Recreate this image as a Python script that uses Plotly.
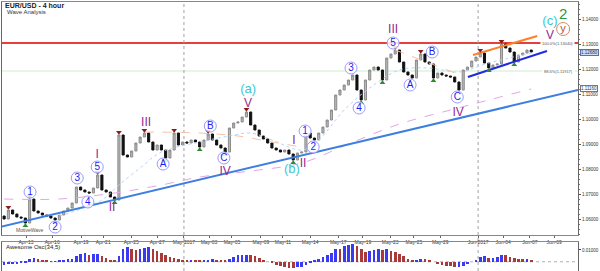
import plotly.graph_objects as go

# ---------------- data ----------------
title_text = "EUR/USD - 4 hour"
subtitle_text = "Wave Analysis"
ao_title = "Awesome Osc(34,5)"

first_open = 1.0612
closes = [
    1.0600, 1.0636, 1.0620, 1.0608, 1.0604, 1.0584, 1.0680, 1.0632, 1.0624, 1.0616,
    1.0612, 1.0604, 1.0596, 1.0616, 1.0632, 1.0644, 1.0664, 1.0728, 1.0716, 1.0708,
    1.0704, 1.0724, 1.0776, 1.0716, 1.0708, 1.0688, 1.0676, 1.0936, 1.0856, 1.0848,
    1.0872, 1.0904, 1.0928, 1.0944, 1.0908, 1.0876, 1.0896, 1.0876, 1.0844, 1.0876,
    1.0944, 1.0896, 1.0908, 1.0904, 1.0916, 1.0908, 1.0888, 1.0916, 1.0940, 1.0916,
    1.0896, 1.0884, 1.0868, 1.0964, 1.0984, 1.0988, 1.1008, 1.1028, 1.0976, 1.0956,
    1.0932, 1.0920, 1.0904, 1.0884, 1.0876, 1.0868, 1.0876, 1.0860, 1.0836, 1.0864,
    1.0868, 1.0944, 1.0924, 1.0916, 1.0944, 1.0968, 1.0996, 1.1036, 1.1096, 1.1116,
    1.1136, 1.1156, 1.1176, 1.1116, 1.1076, 1.1156, 1.1196, 1.1208, 1.1196, 1.1156,
    1.1244, 1.1260, 1.1276, 1.1228, 1.1188, 1.1176, 1.1164, 1.1236, 1.1260, 1.1228,
    1.1220, 1.1164, 1.1184, 1.1176, 1.1172, 1.1168, 1.1148, 1.1116, 1.1196, 1.1208,
    1.1232, 1.1248, 1.1264, 1.1224, 1.1204, 1.1216, 1.1220, 1.1300, 1.1284, 1.1268,
    1.1228, 1.1256, 1.1264, 1.1276, 1.1268,
]

ao_values = [
    -0.0025, -0.0023, -0.0021, -0.0017, -0.0012, -0.0004, 0.0021, 0.0033, 0.0025, 0.0017,
    0.0008, 0.0003, 0.0004, 0.0008, 0.0012, 0.0021, 0.0025, 0.0050, 0.0067, 0.0075,
    0.0058, 0.0062, 0.0067, 0.0050, 0.0033, 0.0017, 0.0008, 0.0050, 0.0108, 0.0125,
    0.0108, 0.0100, 0.0108, 0.0117, 0.0121, 0.0108, 0.0092, 0.0075, 0.0058, 0.0042,
    0.0033, 0.0025, 0.0017, 0.0011, 0.0012, 0.0008, 0.0007, 0.0012, 0.0017, 0.0025,
    0.0017, 0.0012, 0.0008, 0.0025, 0.0042, 0.0054, 0.0058, 0.0061, 0.0054, 0.0050,
    0.0033, 0.0017, 0.0000, -0.0012, -0.0025, -0.0033, -0.0042, -0.0050, -0.0052, -0.0046,
    -0.0042, -0.0025, -0.0008, 0.0008, 0.0025, 0.0042, 0.0058, 0.0075, 0.0108, 0.0104,
    0.0133, 0.0142, 0.0150, 0.0133, 0.0108, 0.0083, 0.0087, 0.0100, 0.0108, 0.0100,
    0.0104, 0.0092, 0.0083, 0.0067, 0.0050, 0.0025, 0.0008, 0.0012, 0.0025, 0.0023,
    0.0017, 0.0000, -0.0017, -0.0025, -0.0033, -0.0037, -0.0042, -0.0040, -0.0033, -0.0017,
    0.0000, 0.0017, 0.0042, 0.0050, 0.0032, 0.0035, 0.0042, 0.0058, 0.0057, 0.0042,
    0.0033, 0.0025, 0.0021, 0.0022, 0.0018,
]

tick_labels = ["Apr-13", "Apr-16", "Apr-19", "Apr-21", "Apr-25", "Apr-27", "May-2017",
               "May-03", "May-05", "May-09", "May-11", "May-14", "May-17", "May-19",
               "May-23", "May-25", "May-29", "Jun-2017", "Jun-04", "Jun-07", "Jun-09"]
tick_bars = [5.15, 11.3, 18.1, 23.3, 29.9, 36.0, 42.3, 48.2, 53.6, 60.4, 65.6, 72.0,
             78.6, 84.4, 90.8, 96.4, 102.6, 111.5, 117.4, 123.7, 129.4]

price_ticks = [1.06, 1.07, 1.08, 1.09, 1.10, 1.11, 1.12, 1.13, 1.14]

fractal_high_bars = [1, 6, 22, 27, 33, 40, 48, 57, 92, 98, 112, 117]
fractal_low_bars = [5, 12, 26, 38, 46, 52, 68, 84, 89, 101, 114, 120]

fib_levels = [1.1304, 1.1192]
fib_texts = ["100.0%(1.13040)", "88.6%(1.11917)"]

# indicator lines (sampled)
ma_long_x = [0, 13, 26, 37, 46, 58, 70, 81, 93, 105, 114, 124]
ma_long_y = [1.0680, 1.0680, 1.0704, 1.0736, 1.0768, 1.0792, 1.0824, 1.0900, 1.0980, 1.1036, 1.1076, 1.1120]
ma_mid_x = [33, 46, 55, 63, 70]
ma_mid_y = [1.0948, 1.0944, 1.0932, 1.0908, 1.0888]
ma_short_x = [13, 23, 27, 32, 37, 46, 53, 58, 63, 70, 74, 80, 86, 93, 100, 107, 114, 124]
ma_short_y = [1.0612, 1.0676, 1.0736, 1.0804, 1.0868, 1.0908, 1.0932, 1.0944, 1.0916, 1.0876,
              1.0916, 1.1036, 1.1124, 1.1196, 1.1204, 1.1188, 1.1224, 1.1264]

# drawn lines
trend_main_x = [-1.0, 135.0]
trend_main_y = [1.0568, 1.1116]
wedge_low_x = [109.1, 127.7]
wedge_low_y = [1.1168, 1.1272]
wedge_high_x = [110.3, 125.4]
wedge_high_y = [1.1256, 1.1332]
salmon_x = [92.0, 107.3]
salmon_y = [1.1276, 1.1176]

# wave labels
blue_text = ["1", "2", "3", "4", "5", "A", "B", "C", "1", "2", "3", "4", "5", "A", "B", "C"]
blue_x = [6.1, 12.0, 17.2, 19.7, 21.9, 37.4, 48.5, 51.7, 70.8, 72.7, 81.6, 83.5, 91.5, 95.5, 100.7, 106.6]
blue_y = [1.0708, 1.0568, 1.0764, 1.0668, 1.0808, 1.0820, 1.0972, 1.0844, 1.0952, 1.0888,
          1.1204, 1.1044, 1.1304, 1.1136, 1.1268, 1.1088]
roman_text = ["I", "II", "III", "IV", "V", "I", "II", "III", "IV", "V"]
roman_x = [21.9, 25.4, 33.4, 52.0, 57.4, 68.2, 70.3, 91.5, 106.8, 128.4]
roman_y = [1.0856, 1.0644, 1.0984, 1.0788, 1.1060, 1.0912, 1.0820, 1.1356, 1.1024, 1.1332]
cyan_text = ["(a)", "(b)", "(c)"]
cyan_x = [57.4, 67.7, 128.4]
cyan_y = [1.1116, 1.0796, 1.1388]
green_text = ["2"]
green_x = [131.5]
green_y = [1.1416]
brown_text = ["y"]
brown_x = [131.5]
brown_y = [1.1360]

# ---------------- layout constants ----------------
W, H = 600, 271
PL, PR, PT, PB = 2, 578, 2, 271
MAIN_BOTTOM_PX = 235
AO_TOP_PX = 242
Y_RANGE = [1.0536, 1.1468]
AO_RANGE = [-0.0078, 0.0167]
X_RANGE = [-0.5, 135.0]


def paper_x(px):
    return (px - PL) / (PR - PL)


def paper_y(py):
    return 1 - (py - PT) / (PB - PT)


FONT = "Arial, Liberation Sans, sans-serif"

n = len(closes)
bars = list(range(n))
opens = [first_open] + closes[:-1]
highs = [max(o, c) for o, c in zip(opens, closes)]
lows = [min(o, c) for o, c in zip(opens, closes)]

fig = go.Figure()

# indicator lines (behind candles)
fig.add_trace(go.Scatter(x=ma_long_x, y=ma_long_y, mode="lines", line=dict(color="#e3a6e3", width=1, dash="dash"),
                         line_shape="spline", hoverinfo="skip"))
fig.add_trace(go.Scatter(x=ma_mid_x, y=ma_mid_y, mode="lines", line=dict(color="#f5c2a8", width=1, dash="dash"),
                         line_shape="spline", hoverinfo="skip"))
fig.add_trace(go.Scatter(x=ma_short_x, y=ma_short_y, mode="lines", line=dict(color="#b9d3f5", width=1, dash="dot"),
                         line_shape="spline", hoverinfo="skip"))
fig.add_trace(go.Scatter(x=salmon_x, y=salmon_y, mode="lines", line=dict(color="#f7c2a0", width=1, dash="dash"),
                         hoverinfo="skip"))

# main trendline and wedge
fig.add_trace(go.Scatter(x=trend_main_x, y=trend_main_y, mode="lines", line=dict(color="#3d7fe0", width=2),
                         hoverinfo="skip"))
fig.add_trace(go.Scatter(x=wedge_low_x, y=wedge_low_y, mode="lines", line=dict(color="#1f2be0", width=2),
                         hoverinfo="skip"))
fig.add_trace(go.Scatter(x=wedge_high_x, y=wedge_high_y, mode="lines", line=dict(color="#ff7f2a", width=2),
                         hoverinfo="skip"))

# candles
fig.add_trace(go.Candlestick(
    x=bars, open=opens, high=highs, low=lows, close=closes,
    increasing=dict(line=dict(color="#8c8c8c", width=1), fillcolor="#b8b8b8"),
    decreasing=dict(line=dict(color="#111111", width=1), fillcolor="#111111"),
    whiskerwidth=0, hoverinfo="skip", xaxis="x", yaxis="y"))

# fractal markers
off = 0.0011
fig.add_trace(go.Scatter(x=fractal_high_bars, y=[highs[b] + off for b in fractal_high_bars], mode="markers",
                         marker=dict(symbol="triangle-down", size=5, color="#8b1c1c"), hoverinfo="skip"))
fig.add_trace(go.Scatter(x=fractal_low_bars, y=[lows[b] - off for b in fractal_low_bars], mode="markers",
                         marker=dict(symbol="triangle-up", size=5, color="#2e8b2e"), hoverinfo="skip"))

# wave labels
fig.add_trace(go.Scatter(x=blue_x, y=blue_y, mode="markers+text", text=blue_text, textposition="middle center",
                         marker=dict(symbol="circle", size=12, color="rgba(255,255,255,0.85)",
                                     line=dict(color="#9b9bff", width=1)),
                         textfont=dict(family=FONT, size=10, color="#1c1cf0"), hoverinfo="skip"))
fig.add_trace(go.Scatter(x=brown_x, y=brown_y, mode="markers+text", text=brown_text, textposition="middle center",
                         marker=dict(symbol="circle", size=13, color="rgba(255,255,255,0.85)",
                                     line=dict(color="#d08a66", width=1)),
                         textfont=dict(family=FONT, size=11, color="#b5582a"), hoverinfo="skip"))
fig.add_trace(go.Scatter(x=roman_x, y=roman_y, mode="text", text=roman_text, textposition="middle center",
                         textfont=dict(family=FONT, size=12, color="#922a92"), hoverinfo="skip"))
fig.add_trace(go.Scatter(x=cyan_x, y=cyan_y, mode="text", text=cyan_text, textposition="middle center",
                         textfont=dict(family=FONT, size=13, color="#3cc8d0"), hoverinfo="skip"))
fig.add_trace(go.Scatter(x=green_x, y=green_y, mode="text", text=green_text, textposition="middle center",
                         textfont=dict(family=FONT, size=15, color="#2f9a2f"), hoverinfo="skip"))

# Awesome oscillator
ao_colors = ["#3a3af5"] + ["#3a3af5" if ao_values[i] >= ao_values[i - 1] else "#a83a3a" for i in range(1, len(ao_values))]
fig.add_trace(go.Bar(x=bars, y=ao_values, marker=dict(color=ao_colors, line=dict(width=0)), width=0.62,
                     xaxis="x2", yaxis="y2", hoverinfo="skip"))

shapes = []
# fib horizontal lines
shapes.append(dict(type="line", xref="paper", yref="y", x0=0, x1=1.0, y0=fib_levels[0], y1=fib_levels[0],
                   line=dict(color="#e5413a", width=2), layer="below"))
shapes.append(dict(type="line", xref="paper", yref="y", x0=0, x1=1, y0=fib_levels[1], y1=fib_levels[1],
                   line=dict(color="#cdeecd", width=1), layer="below"))
# month separators
for lab, b in zip(tick_labels, tick_bars):
    if "2017" in lab:
        shapes.append(dict(type="line", xref="x", yref="paper", x0=b, x1=b, y0=0, y1=1,
                           line=dict(color="#a0a0a0", width=1, dash="dot"), layer="below"))
# AO zero line
shapes.append(dict(type="line", xref="paper", yref="y2", x0=0, x1=1, y0=0, y1=0,
                   line=dict(color="#b0b0b0", width=1, dash="dot"), layer="below"))

annotations = [
    dict(text="<b>" + title_text + "</b>", xref="paper", yref="paper", x=paper_x(3), y=paper_y(5.5),
         xanchor="left", yanchor="middle", showarrow=False, font=dict(family=FONT, size=7, color="#222")),
    dict(text=subtitle_text, xref="paper", yref="paper", x=paper_x(5), y=paper_y(12),
         xanchor="left", yanchor="middle", showarrow=False, font=dict(family=FONT, size=6, color="#333")),
    dict(text=ao_title, xref="paper", yref="paper", x=paper_x(4), y=paper_y(247),
         xanchor="left", yanchor="middle", showarrow=False, font=dict(family=FONT, size=6, color="#222")),
    dict(text="MotiveWave", xref="paper", yref="paper", x=paper_x(14), y=paper_y(230),
         xanchor="left", yanchor="middle", showarrow=False, font=dict(family=FONT, size=5, color="#555")),
]
for lvl, txt in zip(fib_levels, fib_texts):
    annotations.append(dict(text=txt, xref="paper", yref="y", x=paper_x(575), y=lvl, xanchor="right",
                            yanchor="middle", showarrow=False, font=dict(family=FONT, size=4, color="#555"),
                            bgcolor="white"))
# right-axis value boxes
annotations.append(dict(text=f"{trend_main_y[1]:.5f}", xref="paper", yref="y", x=paper_x(580),
                        y=trend_main_y[1] + 0.0008,
                        xanchor="left", yanchor="middle", showarrow=False,
                        font=dict(family=FONT, size=4.5, color="#333"), bordercolor="#777", borderwidth=1,
                        borderpad=0, bgcolor="white"))
annotations.append(dict(text=f"{closes[-1]:.5f}", xref="paper", yref="y", x=paper_x(580), y=closes[-1],
                        xanchor="left", yanchor="middle", showarrow=False,
                        font=dict(family=FONT, size=4.5, color="#333"), bordercolor="#5a6fb0", borderwidth=1,
                        borderpad=0, bgcolor="#cfdcf5"))

fig.update_layout(
    width=W, height=H,
    margin=dict(l=PL, r=W - PR, t=PT, b=H - PB, pad=0),
    paper_bgcolor="white", plot_bgcolor="white",
    showlegend=False, bargap=0,
    shapes=shapes, annotations=annotations,
    xaxis=dict(domain=[0, 1], range=X_RANGE, anchor="y", rangeslider=dict(visible=False),
               tickmode="array", tickvals=tick_bars, ticktext=tick_labels, tickangle=0,
               tickfont=dict(family=FONT, size=5, color="#333"), ticks="outside", ticklen=2,
               tickcolor="#666", showgrid=False, zeroline=False, showline=True, linecolor="#888",
               linewidth=1, mirror=True, automargin=False),
    yaxis=dict(domain=[paper_y(MAIN_BOTTOM_PX), 1], range=Y_RANGE, side="right", anchor="x",
               tickmode="array", tickvals=price_ticks, ticktext=[f"{v:.5f}" for v in price_ticks],
               tickfont=dict(family=FONT, size=4.5, color="#333"), ticks="outside", ticklen=2,
               tickcolor="#555",
               minor=dict(ticks="outside", ticklen=1, dtick=0.002, tickcolor="#777", showgrid=False),
               showgrid=False, zeroline=False, showline=True, linecolor="#666", linewidth=1,
               mirror=True, automargin=False),
    xaxis2=dict(domain=[0, 1], range=X_RANGE, anchor="y2", matches="x", showticklabels=False,
                showgrid=False, zeroline=False, showline=True, linecolor="#888", mirror=True,
                ticks="", automargin=False),
    yaxis2=dict(domain=[0, paper_y(AO_TOP_PX)], range=AO_RANGE, side="right", anchor="x2",
                tickmode="array", tickvals=[0.01], ticktext=["0.01000"],
                tickfont=dict(family=FONT, size=4.5, color="#333"), ticks="outside", ticklen=2,
                showgrid=False, zeroline=False, showline=True, linecolor="#666", mirror=True,
                automargin=False),
)

fig.write_html("out.html")
